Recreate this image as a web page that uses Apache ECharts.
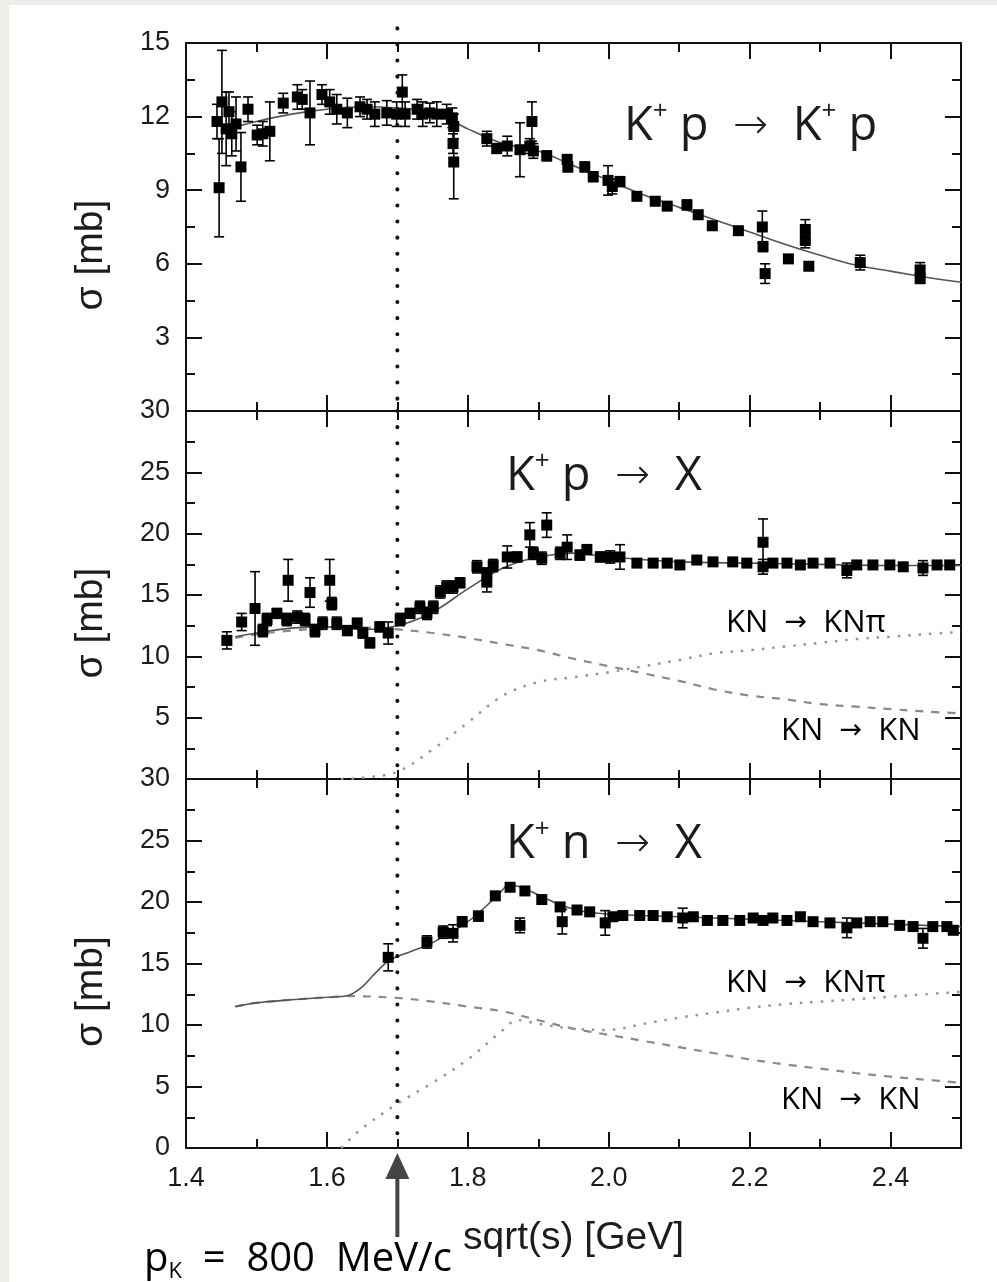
<!DOCTYPE html>
<html><head><meta charset="utf-8">
<script src="https://cdn.jsdelivr.net/npm/echarts@6/dist/echarts.min.js"></script>
<style>
html,body{margin:0;padding:0;width:997px;height:1282px;overflow:hidden;background:#eeede9;}
#paper{position:absolute;left:9px;top:5px;right:0;bottom:0;background:#fff;}
#chart{position:absolute;left:0;top:0;width:997px;height:1282px;}
</style></head><body><div id="paper"></div><div id="chart"></div>
<script>
// ---------- DATA ----------
const xMin = 1.4, xMax = 2.5;
const refLineX = 1.7;                 // p_K = 800 MeV/c
const yMaxes = [15, 30, 30];
const yIntervals = [3, 5, 5];

// K+ p -> K+ p (elastic) : [sqrt(s), sigma, error]
const kpElastic = [
 [1.444,11.8,0.7],[1.447,9.1,2.0],[1.451,12.6,2.1],[1.457,11.5,1.5],[1.461,12.2,0.8],
 [1.465,11.3,0.9],[1.471,11.7,1.1],[1.478,9.95,1.4],[1.488,12.3,0.5],[1.501,11.25,0.4],
 [1.509,11.3,0.5],[1.519,11.4,1.2],[1.538,12.55,0.4],[1.558,12.8,0.5],[1.565,12.7,0.4],
 [1.576,12.15,1.3],[1.593,12.9,0.4],[1.604,12.6,0.5],[1.614,12.3,0.6],[1.629,12.15,0.6],
 [1.647,12.4,0.4],[1.657,12.3,0.4],[1.668,12.1,0.5],[1.685,12.15,0.5],[1.699,12.1,0.5],
 [1.707,13.0,0.7],[1.711,12.1,0.5],[1.728,12.3,0.4],[1.736,12.1,0.5],[1.746,12.15,0.4],
 [1.756,12.1,0.5],[1.770,12.1,0.4],[1.778,11.95,0.4],[1.780,11.6,0.5],[1.779,10.9,0.4],
 [1.780,10.15,1.5],[1.827,11.1,0.3],[1.841,10.7,0.2],[1.856,10.8,0.4],[1.874,10.65,1.1],
 [1.888,10.8,0.3],[1.891,11.8,0.8],[1.893,10.6,0.3],[1.912,10.4,0.2],[1.941,10.25,0.2],
 [1.942,9.95,0.2],[1.966,9.95,0.2],[1.978,9.55,0.2],[1.999,9.4,0.6],[2.005,9.15,0.3],
 [2.016,9.35,0.2],[2.040,8.75,0.1],[2.066,8.55,0.1],[2.083,8.35,0.1],[2.111,8.4,0.2],
 [2.127,8.0,0.1],[2.147,7.55,0.1],[2.184,7.35,0.1],[2.218,7.5,0.65],[2.219,6.7,0.2],
 [2.222,5.6,0.4],[2.255,6.2,0.1],[2.279,7.4,0.4],[2.279,6.95,0.3],[2.284,5.9,0.1],
 [2.357,6.05,0.3],[2.442,5.75,0.3],[2.442,5.4,0.2]
];
// K+ p -> X (total)
const kpTotal = [
 [1.458,11.3,0.7],[1.479,12.8,0.7],[1.498,13.9,3.0],[1.509,12.1,0.5],[1.515,13.0,0.5],
 [1.529,13.5,0.4],[1.545,16.2,1.7],[1.543,13.0,0.5],[1.558,13.2,0.5],[1.576,15.2,1.2],
 [1.569,13.0,0.5],[1.583,12.1,0.5],[1.604,16.2,1.7],[1.607,14.3,0.5],[1.594,12.7,0.5],
 [1.614,12.7,0.5],[1.629,12.1,0.4],[1.643,12.7,0.4],[1.651,11.9,0.4],[1.661,11.1,0.4],
 [1.675,12.4,0.4],[1.687,11.9,0.9],[1.704,13.0,0.5],[1.718,13.5,0.4],[1.732,14.0,0.5],
 [1.742,13.5,0.5],[1.751,14.0,0.5],[1.761,15.25,0.5],[1.770,15.65,0.5],[1.779,15.65,0.5],
 [1.789,16.0,0.4],[1.813,17.3,0.5],[1.827,16.05,0.8],[1.836,17.4,0.5],[1.827,16.8,0.4],
 [1.856,18.1,0.9],[1.870,18.1,0.4],[1.888,19.9,1.0],[1.893,18.4,0.5],[1.905,18.0,0.5],
 [1.912,20.7,1.0],[1.931,18.4,0.5],[1.941,18.9,1.0],[1.959,18.25,0.4],[1.969,18.7,0.4],
 [1.988,18.1,0.4],[2.002,18.1,0.5],[2.016,18.1,1.0],[2.040,17.6,0.2],[2.063,17.6,0.2],
 [2.083,17.6,0.3],[2.101,17.45,0.2],[2.125,17.85,0.2],[2.148,17.7,0.2],[2.176,17.7,0.2],
 [2.196,17.6,0.2],[2.219,19.3,1.9],[2.219,17.3,0.6],[2.233,17.6,0.2],[2.253,17.6,0.2],
 [2.272,17.45,0.2],[2.290,17.6,0.2],[2.314,17.6,0.2],[2.338,17.0,0.6],[2.352,17.45,0.2],
 [2.375,17.45,0.2],[2.399,17.45,0.2],[2.418,17.3,0.2],[2.446,17.2,0.6],[2.466,17.45,0.2],
 [2.484,17.45,0.2]
];
// K+ n -> X (total)
const knTotal = [
 [1.687,15.5,1.1],[1.742,16.75,0.5],[1.765,17.55,0.5],[1.779,17.45,0.7],[1.792,18.4,0.4],
 [1.815,18.85,0.4],[1.839,20.5,0.3],[1.860,21.2,0.3],[1.881,20.9,0.3],[1.874,18.1,0.6],
 [1.905,20.2,0.3],[1.931,19.6,0.3],[1.934,18.4,1.0],[1.955,19.35,0.3],[1.973,19.2,0.3],
 [1.995,18.3,1.0],[2.006,18.8,0.3],[2.020,18.9,0.3],[2.044,18.9,0.3],[2.063,18.9,0.3],
 [2.083,18.8,0.3],[2.105,18.7,0.8],[2.120,18.8,0.3],[2.140,18.5,0.3],[2.162,18.5,0.3],
 [2.186,18.5,0.3],[2.205,18.7,0.3],[2.219,18.5,0.3],[2.233,18.7,0.3],[2.253,18.5,0.3],
 [2.272,18.8,0.3],[2.290,18.4,0.3],[2.314,18.3,0.3],[2.338,17.9,0.8],[2.352,18.3,0.3],
 [2.371,18.4,0.3],[2.389,18.4,0.3],[2.413,18.1,0.3],[2.432,18.0,0.3],[2.446,17.05,0.8],
 [2.460,18.0,0.3],[2.480,18.0,0.3],[2.489,17.7,0.3]
];

// model curves
const elFitX  = [1.46,1.5,1.55,1.6,1.65,1.7,1.75,1.8,1.85,1.9,1.95,2.0,2.05,2.1,2.15,2.2,2.25,2.3,2.35,2.4,2.45,2.5];
const elFitY  = [11.5,11.8,12.1,12.3,12.4,12.35,12.2,11.5,10.9,10.6,10.0,9.4,8.8,8.3,7.8,7.3,6.8,6.35,5.95,5.7,5.45,5.25];

const kpFitX  = [1.47,1.5,1.55,1.6,1.65,1.7,1.75,1.8,1.85,1.9,1.95,2.0,2.1,2.2,2.3,2.4,2.5];
const kpFitY  = [11.6,11.9,12.3,12.4,12.2,12.5,13.6,15.5,17.2,18.1,18.4,18.1,17.7,17.6,17.5,17.4,17.4];
const kpElX   = [1.47,1.5,1.55,1.6,1.65,1.7,1.75,1.8,1.85,1.9,1.95,2.0,2.05,2.1,2.15,2.2,2.25,2.3,2.35,2.4,2.45,2.5];
const kpElY   = [11.5,11.8,12.1,12.3,12.35,12.2,11.9,11.5,11.0,10.5,9.8,9.2,8.6,8.0,7.3,6.8,6.5,6.1,5.9,5.7,5.5,5.35];
const kpPiX   = [1.62,1.65,1.7,1.75,1.8,1.85,1.9,1.95,2.0,2.05,2.1,2.15,2.2,2.25,2.3,2.35,2.4,2.45,2.5];
const kpPiY   = [0,0.1,0.6,2.4,4.6,6.8,7.9,8.3,8.7,9.2,9.7,10.25,10.5,10.8,11.1,11.4,11.6,11.8,12.0];

const knFitX  = [1.47,1.5,1.55,1.6,1.63,1.65,1.67,1.69,1.72,1.75,1.8,1.84,1.86,1.88,1.91,1.94,1.98,2.05,2.1,2.2,2.3,2.4,2.5];
const knFitY  = [11.5,11.8,12.05,12.25,12.4,13.1,14.3,15.3,16.0,16.7,18.4,20.4,21.4,21.1,20.3,19.6,19.1,18.9,18.8,18.6,18.4,18.2,18.0];
const knElX   = [1.47,1.5,1.55,1.6,1.63,1.7,1.75,1.8,1.85,1.9,1.95,2.0,2.05,2.1,2.15,2.2,2.25,2.3,2.35,2.4,2.45,2.5];
const knElY   = [11.5,11.8,12.05,12.25,12.35,12.2,11.9,11.5,11.1,10.4,9.7,9.2,8.7,8.2,7.7,7.2,6.8,6.45,6.1,5.8,5.55,5.3];
const knPiX   = [1.62,1.65,1.7,1.75,1.8,1.85,1.87,1.9,1.95,2.0,2.05,2.1,2.15,2.2,2.25,2.3,2.35,2.4,2.45,2.5];
const knPiY   = [0,1.6,3.6,5.3,7.2,9.6,10.4,10.1,9.7,9.6,10.1,10.6,11.0,11.4,11.7,11.9,12.1,12.3,12.5,12.7];

// ---------- CHART ----------
const INK = '#111';
const LBL = '#1c1c1c';
const grids = [
  {left:186, width:775, top:43,  height:368},
  {left:186, width:775, top:411, height:368},
  {left:186, width:775, top:779, height:369}
];
const pair = (xs, ys) => xs.map((x, i) => [x, ys[i]]);

const xAxis = [], yAxis = [];
for (let g = 0; g < 3; g++) {
  const bottomLabels = g === 2;
  ['bottom', 'top'].forEach(pos => {
    xAxis.push({
      gridIndex:g, type:'value', position:pos, min:xMin, max:xMax, interval:0.2,
      axisLine:{show:true, onZero:false, lineStyle:{color:INK, width:2}},
      axisTick:{show:true, inside:true, length:16, lineStyle:{color:INK, width:2}},
      axisLabel:{show: bottomLabels && pos === 'bottom', showMaxLabel:false, margin:17,
        formatter: v => v.toFixed(1), fontFamily:'Liberation Sans', fontSize:27, color:LBL},
      splitLine:{show:false},
      name: (bottomLabels && pos === 'bottom') ? 'sqrt(s) [GeV]' : '',
      nameLocation:'middle', nameGap:71,
      nameTextStyle:{fontFamily:'Liberation Sans', fontSize:39, color:LBL}
    });
    xAxis.push({
      gridIndex:g, type:'value', position:pos, min:xMin, max:xMax, interval:0.1,
      axisLine:{show:false, onZero:false},
      axisTick:{show:true, inside:true, length:9, lineStyle:{color:INK, width:2}},
      axisLabel:{show:false}, splitLine:{show:false}
    });
  });
  ['left', 'right'].forEach(pos => {
    yAxis.push({
      gridIndex:g, type:'value', position:pos, min:0, max:yMaxes[g], interval:yIntervals[g],
      axisLine:{show:true, onZero:false, lineStyle:{color:INK, width:2}},
      axisTick:{show:true, inside:true, length:16, lineStyle:{color:INK, width:2}},
      minorTick:{show:true, splitNumber:2, length:9, lineStyle:{color:INK, width:2}},
      axisLabel:{show: pos === 'left', showMinLabel: g === 2, margin:16,
        fontFamily:'Liberation Sans', fontSize:27, color:LBL},
      splitLine:{show:false}, minorSplitLine:{show:false},
      name: pos === 'left' ? 'σ [mb]' : '',
      nameLocation:'middle', nameGap:75,
      nameTextStyle:{fontFamily:'Liberation Sans', fontSize:39, color:LBL, padding:[0,56,0,0]}
    });
  });
}

function errorBarItem(params, api) {
  const x = api.value(0), y = api.value(1), e = api.value(2);
  const hi = api.coord([x, y + e]), lo = api.coord([x, y - e]);
  const cap = 5;
  return {type:'group', children:[
    {type:'line', shape:{x1:hi[0], y1:hi[1], x2:lo[0], y2:lo[1]}, style:{stroke:'#000', lineWidth:1.6}},
    {type:'line', shape:{x1:hi[0]-cap, y1:hi[1], x2:hi[0]+cap, y2:hi[1]}, style:{stroke:'#000', lineWidth:1.6}},
    {type:'line', shape:{x1:lo[0]-cap, y1:lo[1], x2:lo[0]+cap, y2:lo[1]}, style:{stroke:'#000', lineWidth:1.6}}
  ]};
}
function refLineSeries(g, yTop) {
  return {
    type:'custom', xAxisIndex:4*g, yAxisIndex:2*g, clip:false, z:5, silent:true,
    data:[[refLineX, 0, yTop]],
    renderItem:(params, api) => {
      const a = api.coord([api.value(0), api.value(2)]);
      const b = api.coord([api.value(0), api.value(1)]);
      return {type:'line', shape:{x1:a[0], y1:a[1], x2:b[0], y2:b[1]},
        style:{stroke:'#111', lineWidth:4, lineDash:[0.1, 16], lineCap:'round'}};
    }
  };
}
function lineSeries(g, data, style) {
  return {type:'line', xAxisIndex:4*g, yAxisIndex:2*g, data, showSymbol:false, smooth:0.35,
    lineStyle:style, z:2, silent:true, animation:false};
}
function pointSeries(g, data) {
  return [
    {type:'custom', xAxisIndex:4*g, yAxisIndex:2*g, data, renderItem:errorBarItem, z:3, silent:true},
    {type:'scatter', xAxisIndex:4*g, yAxisIndex:2*g, data:data.map(d => [d[0], d[1]]),
      symbol:'rect', symbolSize:11, itemStyle:{color:'#000', opacity:1}, z:4, silent:true}
  ];
}
const solid  = {color:'#555', width:1.6};
const dashed = {color:'#8a8a8a', width:2.2, type:[8, 8]};
const dotted = {color:'#959595', width:2.5, type:[2.5, 8]};

const series = [
  lineSeries(0, pair(elFitX, elFitY), solid),
  ...pointSeries(0, kpElastic),
  refLineSeries(0, 15.6),

  lineSeries(1, pair(kpElX, kpElY), dashed),
  lineSeries(1, pair(kpPiX, kpPiY), dotted),
  lineSeries(1, pair(kpFitX, kpFitY), solid),
  ...pointSeries(1, kpTotal),
  refLineSeries(1, 30),

  lineSeries(2, pair(knElX, knElY), dashed),
  lineSeries(2, pair(knPiX, knPiY), dotted),
  lineSeries(2, pair(knFitX, knFitY), solid),
  ...pointSeries(2, knTotal),
  refLineSeries(2, 30),
  { // arrow pointing at the reference momentum
    type:'custom', xAxisIndex:8, yAxisIndex:4, clip:false, z:6, silent:true,
    data:[[refLineX, 0]],
    renderItem:(params, api) => {
      const p = api.coord([api.value(0), api.value(1)]);
      return {type:'group', children:[
        {type:'polygon', shape:{points:[[p[0], p[1]+5],[p[0]-12, p[1]+31],[p[0]+12, p[1]+31]]}, style:{fill:'#454545'}},
        {type:'rect', shape:{x:p[0]-2, y:p[1]+28, width:4, height:61}, style:{fill:'#454545'}}
      ]};
    }
  }
];

const W = 'normal';
const titleRich = {
  b:{fontFamily:'Open Sans', fontSize:47, fontWeight:W, color:LBL, lineHeight:56},
  a:{fontFamily:'DejaVu Sans', fontWeight:200, fontSize:42, color:LBL, lineHeight:56},
  s:{fontFamily:'Open Sans', fontSize:26, fontWeight:W, color:LBL, lineHeight:34, verticalAlign:'top'}
};
const kinRich = {n:{fontFamily:'Open Sans', fontSize:31, fontWeight:W, color:'#000', lineHeight:36},
                 a:{fontFamily:'DejaVu Sans', fontSize:27, fontWeight:W, color:'#000', lineHeight:36}};
const ts = rich => ({fontWeight:W, rich});
const title = [
  {left:619, top:94,  text:'{b|K}{s|+}{b| p  }{a|→}{b|  K}{s|+}{b| p}', textStyle:ts(titleRich)},
  {left:501, top:444, text:'{b|K}{s|+}{b| p  }{a|→}{b|  X}', textStyle:ts(titleRich)},
  {left:501, top:812, text:'{b|K}{s|+}{b| n  }{a|→}{b|  X}', textStyle:ts(titleRich)},
  {left:721, top:600, text:'{n|KN  }{a|→}{n|  KNπ}', textStyle:ts(kinRich)},
  {left:776, top:708, text:'{n|KN  }{a|→}{n|  KN}', textStyle:ts(kinRich)},
  {left:721, top:960, text:'{n|KN  }{a|→}{n|  KNπ}', textStyle:ts(kinRich)},
  {left:776, top:1077, text:'{n|KN  }{a|→}{n|  KN}', textStyle:ts(kinRich)},
  {left:139, top:1232, text:'{p|p}{k|K}{p|  =  800  MeV/c}', textStyle:ts({
     p:{fontFamily:'Open Sans', fontSize:40, fontWeight:W, color:'#000', lineHeight:46},
     k:{fontFamily:'Open Sans', fontSize:22, fontWeight:W, color:'#000', lineHeight:30, verticalAlign:'bottom'}})}
];

const chart = echarts.init(document.getElementById('chart'), null, {renderer:'canvas'});
chart.setOption({
  animation:false,
  backgroundColor:'transparent',
  grid:grids.map(g => Object.assign({containLabel:false}, g)),
  xAxis, yAxis, series, title
});
</script></body></html>
